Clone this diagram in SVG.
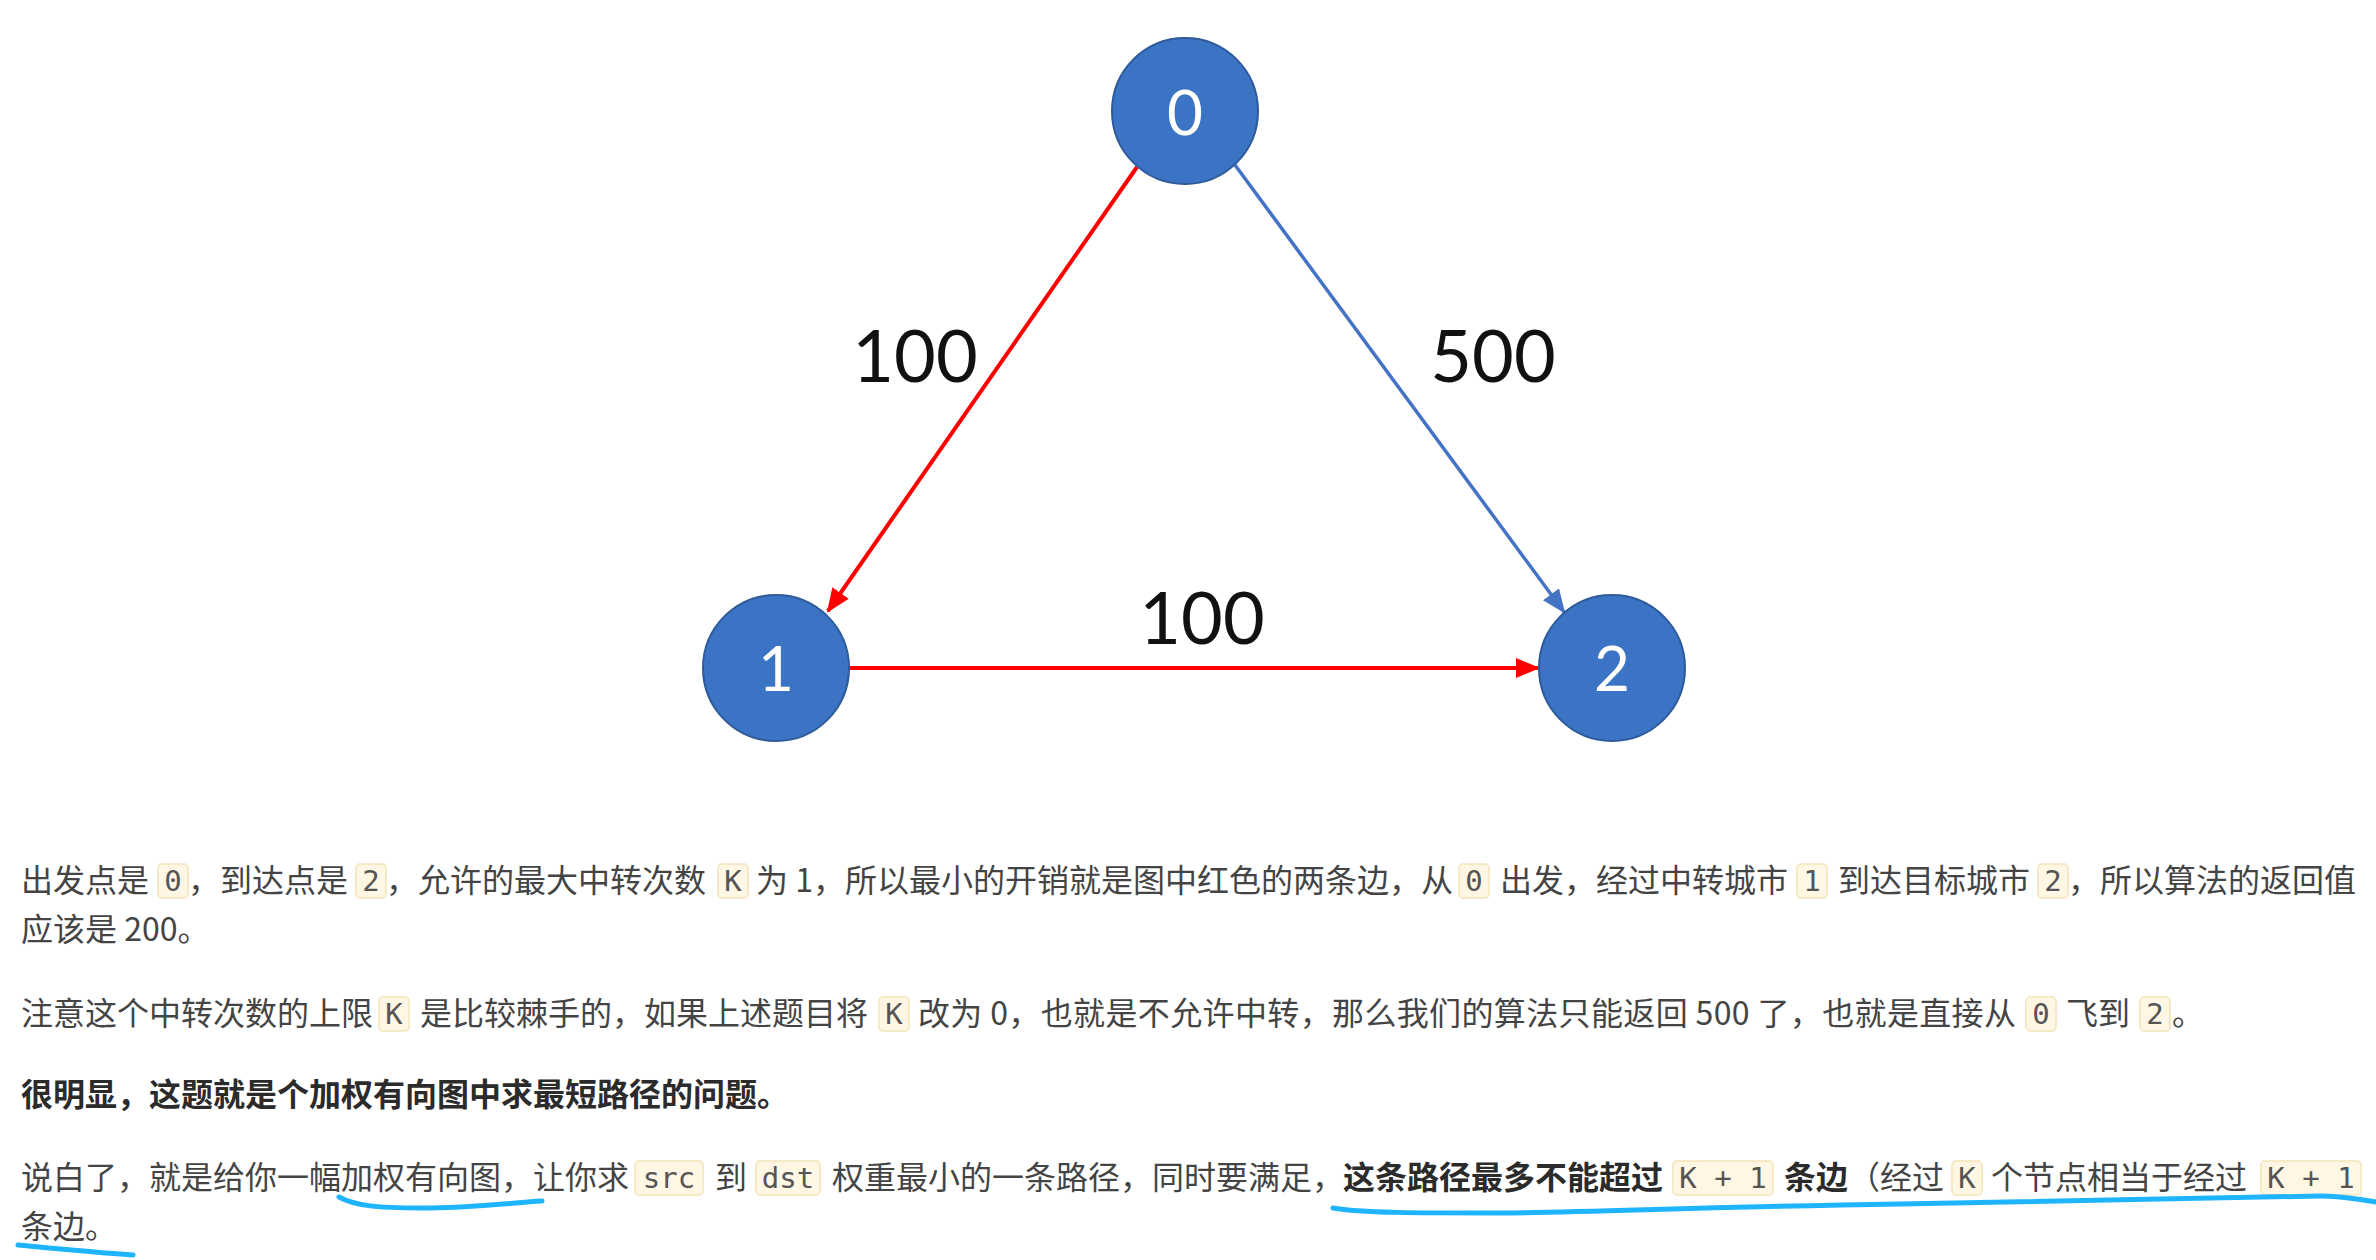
<svg xmlns="http://www.w3.org/2000/svg" width="2376" height="1260" viewBox="0 0 2376 1260">
<defs>
<marker id="ar" markerUnits="userSpaceOnUse" markerWidth="24" markerHeight="20" refX="22" refY="10" orient="auto"><path d="M0,0 L24,10 L0,20 z" fill="#ff0000"/></marker>
<marker id="ab" markerUnits="userSpaceOnUse" markerWidth="24" markerHeight="20" refX="22" refY="10" orient="auto"><path d="M0,0 L24,10 L0,20 z" fill="#4472c4"/></marker>
</defs>
<style>
.node{fill:#3b74c4;stroke:#2f5a9a;stroke-width:2}
.nl{font-family:Lato,"Liberation Sans",sans-serif;font-size:62px;fill:#ffffff;text-anchor:middle}
.el{font-family:Lato,"Liberation Sans",sans-serif;font-size:72px;fill:#111111;text-anchor:middle}
.t{font-family:"Noto Sans CJK SC","Noto Sans",sans-serif;font-size:32px;fill:#444444}
.b{font-family:"Noto Sans CJK SC","Noto Sans",sans-serif;font-size:32px;fill:#2b2b2b;font-weight:bold}
.cb{fill:#fff7e3;stroke:#f4e3b8;stroke-width:1.5}
.c{font-family:"DejaVu Sans Mono","Liberation Mono",monospace;font-size:29px;fill:#555555;text-anchor:middle}
.ul{fill:none;stroke:#1eb4ff;stroke-width:5;stroke-linecap:round;stroke-linejoin:round}
</style>
<rect width="2376" height="1260" fill="#ffffff"/>
<g id="connectors">
<line x1="1137" y1="167" x2="828" y2="611" stroke="#ff0000" stroke-width="4" marker-end="url(#ar)"/>
<line x1="1235" y1="165" x2="1564" y2="612" stroke="#4472c4" stroke-width="3.5" marker-end="url(#ab)"/>
<line x1="849" y1="668" x2="1538" y2="668" stroke="#ff0000" stroke-width="4" marker-end="url(#ar)"/>
<text class="el" x="915" y="382">100</text>
<text class="el" x="1493" y="382">500</text>
<text class="el" x="1202" y="644">100</text>
</g>
<g id="node0"><circle class="node" cx="1185" cy="111" r="73"/><text class="nl" x="1185" y="135">0</text></g>
<g id="node1"><circle class="node" cx="776" cy="668" r="73"/><text class="nl" x="776" y="691">1</text></g>
<g id="node2"><circle class="node" cx="1612" cy="668" r="73"/><text class="nl" x="1612" y="691">2</text></g>
<g id="text">
<text class="t" x="21" y="892">出发点是</text>
<rect class="cb" x="158" y="864" width="30" height="34" rx="4"/><text class="c" x="173" y="891">0</text>
<text class="t" x="188" y="892">，到达点是</text>
<rect class="cb" x="356" y="864" width="30" height="34" rx="4"/><text class="c" x="371" y="891">2</text>
<text class="t" x="386" y="892">，允许的最大中转次数</text>
<rect class="cb" x="718" y="864" width="30" height="34" rx="4"/><text class="c" x="733" y="891">K</text>
<text class="t" x="756" y="892">为 1，所以最小的开销就是图中红色的两条边，从</text>
<rect class="cb" x="1459" y="864" width="30" height="34" rx="4"/><text class="c" x="1474" y="891">0</text>
<text class="t" x="1500" y="892">出发，经过中转城市</text>
<rect class="cb" x="1797" y="864" width="30" height="34" rx="4"/><text class="c" x="1812" y="891">1</text>
<text class="t" x="1838" y="892">到达目标城市</text>
<rect class="cb" x="2038" y="864" width="30" height="34" rx="4"/><text class="c" x="2053" y="891">2</text>
<text class="t" x="2068" y="892">，所以算法的返回值</text>
<text class="t" x="21" y="941">应该是 200。</text>
<text class="t" x="21" y="1025">注意这个中转次数的上限</text>
<rect class="cb" x="379" y="997" width="30" height="34" rx="4"/><text class="c" x="394" y="1024">K</text>
<text class="t" x="420" y="1025">是比较棘手的，如果上述题目将</text>
<rect class="cb" x="879" y="997" width="30" height="34" rx="4"/><text class="c" x="894" y="1024">K</text>
<text class="t" x="918" y="1025" textLength="1098" lengthAdjust="spacing">改为 0，也就是不允许中转，那么我们的算法只能返回 500 了，也就是直接从</text>
<rect class="cb" x="2026" y="997" width="30" height="34" rx="4"/><text class="c" x="2041" y="1024">0</text>
<text class="t" x="2066" y="1025">飞到</text>
<rect class="cb" x="2140" y="997" width="30" height="34" rx="4"/><text class="c" x="2155" y="1024">2</text>
<text class="t" x="2172" y="1025">。</text>
<text class="b" x="21" y="1106">很明显，这题就是个加权有向图中求最短路径的问题。</text>
<text class="t" x="21" y="1189">说白了，就是给你一幅加权有向图，让你求</text>
<rect class="cb" x="635" y="1161" width="68" height="34" rx="4"/><text class="c" x="669" y="1188">src</text>
<text class="t" x="715" y="1189">到</text>
<rect class="cb" x="756" y="1161" width="64" height="34" rx="4"/><text class="c" x="788" y="1188">dst</text>
<text class="t" x="832" y="1189">权重最小的一条路径，同时要满足，</text>
<text class="b" x="1343" y="1189">这条路径最多不能超过</text>
<rect class="cb" x="1673" y="1161" width="100" height="34" rx="4"/><text class="c" x="1723" y="1188">K + 1</text>
<text class="b" x="1784" y="1189">条边</text>
<text class="t" x="1848" y="1189">（经过</text>
<rect class="cb" x="1952" y="1161" width="30" height="34" rx="4"/><text class="c" x="1967" y="1188">K</text>
<text class="t" x="1991" y="1189">个节点相当于经过</text>
<rect class="cb" x="2261" y="1161" width="100" height="34" rx="4"/><text class="c" x="2311" y="1188">K + 1</text>
<text class="t" x="21" y="1238">条边。</text>
</g>
<g id="underlines">
<path class="ul" d="M339,1197 C355,1206 380,1208 420,1208 C470,1208 510,1203 542,1201"/>
<path class="ul" d="M18,1245 C50,1248 90,1252 133,1255"/>
<path class="ul" d="M1333,1208 C1360,1213 1420,1213 1500,1213 C1600,1212 1700,1207 1900,1204 C2100,1201 2250,1198 2320,1196 C2345,1196 2355,1199 2376,1202"/>
</g>
</svg>
